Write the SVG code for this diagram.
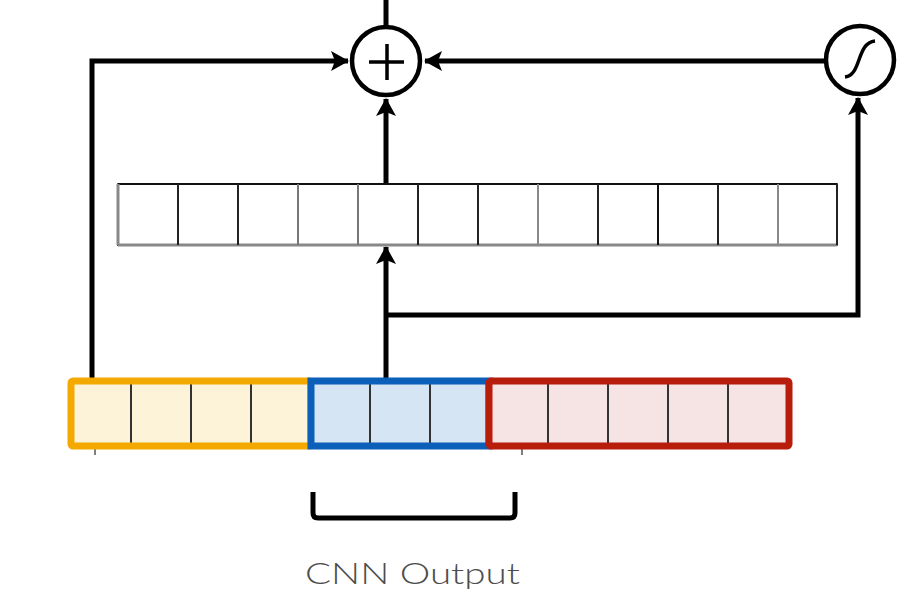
<svg xmlns="http://www.w3.org/2000/svg" width="906" height="595" viewBox="0 0 906 595">
  <style>
    .wire { fill: none; stroke: #000; stroke-width: 5; stroke-linejoin: miter; }
    .op { fill: #fff; stroke: #000; stroke-width: 4.5; }
    .glyph { fill: none; stroke: #000; stroke-width: 3.5; stroke-linecap: butt; }
    .reg-cell { fill: #fff; stroke: #555; stroke-width: 2; }
    .div { stroke: #333; stroke-width: 2; }
    .label { font-family: Lato, "Open Sans", sans-serif; font-weight: 300; font-size: 30px; fill: #4d4d4d; }
  </style>
  <defs>
    <marker id="arrow" viewBox="0 0 18 20" refX="17" refY="10" markerWidth="18" markerHeight="20" markerUnits="userSpaceOnUse" orient="auto">
      <path d="M0,0 L18,10 L0,20 L4,10 Z" fill="#000"/>
    </marker>
  </defs>
  <rect width="906" height="595" fill="#fff"/>

  <!-- connectors -->
  <g id="connectors">
    <line class="wire" x1="386" y1="0" x2="386" y2="26"/>
    <path class="wire" d="M92,378 L92,61 L348,61" marker-end="url(#arrow)"/>
    <path class="wire" d="M825,61 L425,61" marker-end="url(#arrow)"/>
    <path class="wire" d="M386,183 L386,99" marker-end="url(#arrow)"/>
    <path class="wire" d="M386,378 L386,247" marker-end="url(#arrow)"/>
    <path class="wire" d="M386,315 L858,315 L858,98" marker-end="url(#arrow)"/>
    <!-- brace under the CNN output slice -->
    <path class="wire" d="M313,492 L313,513 Q313,518 318,518 L510,518 Q515,518 515,513 L515,492"/>
    <line x1="95" y1="449" x2="95" y2="455" stroke="#555" stroke-width="1.5"/>
    <line x1="522" y1="449" x2="522" y2="455" stroke="#555" stroke-width="1.5"/>
  </g>

  <!-- sum node -->
  <g id="sum">
    <circle class="op" cx="386" cy="61" r="34"/>
    <path class="glyph" d="M369,62 L404,62 M387,44 L387,80"/>
  </g>

  <!-- sigmoid gate -->
  <g id="sigmoid">
    <circle class="op" cx="860" cy="60" r="34"/>
    <path class="glyph" d="M845,77 C862,75 856,43 875,41" stroke-linecap="round"/>
  </g>

  <!-- hidden register of 12 cells -->
  <g id="register">
    <rect class="reg-cell" x="118" y="184" width="719" height="61"/>
    <line x1="118" y1="184" x2="837" y2="184" stroke="#111" stroke-width="2"/>
    <line x1="118" y1="245" x2="837" y2="245" stroke="#888" stroke-width="3"/>
    <g stroke-width="2">
      <line x1="178" y1="184" x2="178" y2="245" stroke="#222"/>
      <line x1="238" y1="184" x2="238" y2="245" stroke="#222"/>
      <line x1="298" y1="184" x2="298" y2="245" stroke="#777"/>
      <line x1="358" y1="184" x2="358" y2="245" stroke="#777"/>
      <line x1="418" y1="184" x2="418" y2="245" stroke="#222"/>
      <line x1="478" y1="184" x2="478" y2="245" stroke="#222"/>
      <line x1="538" y1="184" x2="538" y2="245" stroke="#888"/>
      <line x1="598" y1="184" x2="598" y2="245" stroke="#222"/>
      <line x1="658" y1="184" x2="658" y2="245" stroke="#111"/>
      <line x1="718" y1="184" x2="718" y2="245" stroke="#222"/>
      <line x1="778" y1="184" x2="778" y2="245" stroke="#888"/>
    </g>
    <line x1="118" y1="184" x2="118" y2="245" stroke="#888" stroke-width="3"/>
    <line x1="837" y1="184" x2="837" y2="245" stroke="#222" stroke-width="2"/>
  </g>

  <!-- left context block -->
  <g id="left-block">
    <rect x="71" y="381" width="240" height="65" fill="#fdf3d9"/>
    <line class="div" x1="131" y1="384" x2="131" y2="443"/>
    <line class="div" x1="191" y1="384" x2="191" y2="443"/>
    <line class="div" x1="251" y1="384" x2="251" y2="443"/>
    <rect x="71" y="381" width="240" height="65" fill="none" stroke="#f4a900" stroke-width="7" rx="2"/>
  </g>

  <!-- CNN output block -->
  <g id="cnn-block">
    <rect x="311" y="381" width="178" height="65" fill="#d6e5f4"/>
    <line class="div" x1="370" y1="384" x2="370" y2="443"/>
    <line class="div" x1="430" y1="384" x2="430" y2="443"/>
    <rect x="311" y="381" width="178" height="65" fill="none" stroke="#0b5fb8" stroke-width="7"/>
  </g>

  <!-- right context block -->
  <g id="right-block">
    <rect x="489" y="381" width="300" height="65" fill="#f6e3e3"/>
    <line class="div" x1="548" y1="384" x2="548" y2="443"/>
    <line class="div" x1="608" y1="384" x2="608" y2="443"/>
    <line class="div" x1="668" y1="384" x2="668" y2="443"/>
    <line class="div" x1="728" y1="384" x2="728" y2="443"/>
    <rect x="489" y="381" width="300" height="65" fill="none" stroke="#b81d0c" stroke-width="7" rx="2"/>
  </g>

  <g id="caption">
    <text class="label" x="305" y="584" textLength="215" lengthAdjust="spacingAndGlyphs">CNN Output</text>
  </g>
</svg>
